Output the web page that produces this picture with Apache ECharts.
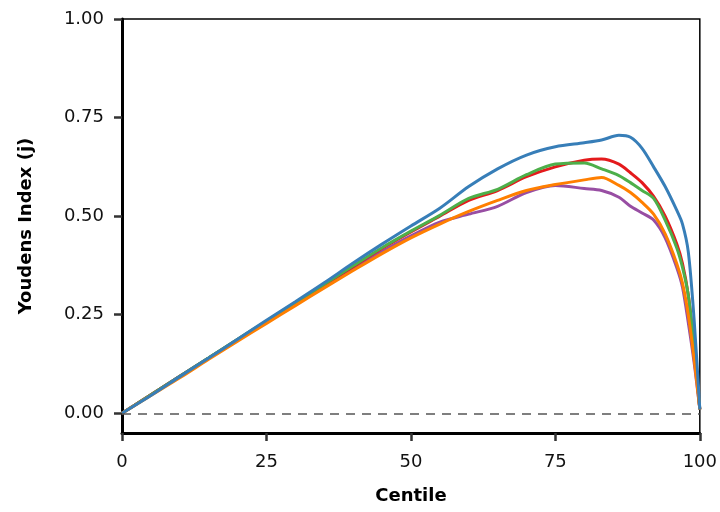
<!DOCTYPE html>
<html>
<head>
<meta charset="utf-8">
<script src="https://cdn.jsdelivr.net/npm/echarts@6/dist/echarts.min.js"></script>
<style>html,body{margin:0;padding:0;background:#fff}#c{width:720px;height:512px}</style>
</head>
<body>
<div id="c"></div>
<script>
var centiles = [0, 5, 10, 15, 20, 25, 30, 35, 40, 45, 50, 55, 60, 65, 70, 75, 80, 83, 86, 88, 90, 92, 94, 96, 97, 98, 99, 100];
var blueVals   = [0, 0.045, 0.093, 0.140, 0.188, 0.236, 0.283, 0.331, 0.381, 0.429, 0.475, 0.520, 0.575, 0.620, 0.655, 0.676, 0.686, 0.693, 0.705, 0.700, 0.672, 0.625, 0.575, 0.515, 0.480, 0.410, 0.240, 0.010];
var redVals    = [0, 0.047, 0.094, 0.140, 0.187, 0.233, 0.280, 0.326, 0.372, 0.418, 0.460, 0.500, 0.540, 0.565, 0.600, 0.625, 0.642, 0.645, 0.632, 0.610, 0.585, 0.550, 0.500, 0.430, 0.380, 0.300, 0.170, 0.010];
var greenVals  = [0, 0.047, 0.094, 0.141, 0.188, 0.234, 0.281, 0.327, 0.374, 0.420, 0.462, 0.502, 0.545, 0.568, 0.605, 0.632, 0.635, 0.620, 0.603, 0.585, 0.565, 0.545, 0.490, 0.420, 0.370, 0.300, 0.170, 0.010];
var orangeVals = [0, 0.045, 0.090, 0.137, 0.183, 0.228, 0.273, 0.318, 0.362, 0.405, 0.445, 0.480, 0.512, 0.540, 0.565, 0.580, 0.592, 0.598, 0.578, 0.560, 0.535, 0.505, 0.455, 0.380, 0.330, 0.250, 0.140, 0.010];
var purpleVals = [0, 0.047, 0.094, 0.140, 0.186, 0.231, 0.276, 0.321, 0.366, 0.410, 0.450, 0.485, 0.505, 0.525, 0.560, 0.578, 0.570, 0.565, 0.548, 0.525, 0.508, 0.490, 0.445, 0.370, 0.320, 0.230, 0.130, 0.010];
var yTicks = [0, 0.25, 0.5, 0.75, 1.0];
var xTicks = [0, 25, 50, 75, 100];

function pairs(v){ return centiles.map(function(c,i){ return [c, v[i]]; }); }

var seriesDefs = [
  {name: 'S5', vals: purpleVals, color: '#984ea3'},
  {name: 'S2', vals: redVals, color: '#e41a1c'},
  {name: 'S3', vals: greenVals, color: '#4daf4a'},
  {name: 'S4', vals: orangeVals, color: '#ff7f00'},
  {name: 'S1', vals: blueVals, color: '#377eb8'}
];

var series = seriesDefs.map(function(s){
  return {
    name: s.name, type: 'line', data: pairs(s.vals), smooth: 0.3,
    showSymbol: false, symbol: 'none',
    lineStyle: {color: s.color, width: 3}, itemStyle: {color: s.color},
    z: 3
  };
});
series.unshift({
  type: 'line', data: [], z: 1,
  markLine: {
    silent: true, symbol: 'none', label: {show: false},
    lineStyle: {color: '#555', type: [9, 7], width: 1.5},
    data: [{yAxis: 0}]
  }
});

var FONT = 'DejaVu Sans';
var chart = echarts.init(document.getElementById('c'), null, {renderer: 'canvas'});
chart.setOption({
  animation: false,
  backgroundColor: '#fff',
  grid: {left: 122, right: 19, top: 19, bottom: 79, show: true, borderColor: '#000', borderWidth: 1.5, backgroundColor: 'transparent'},
  xAxis: {
    type: 'value', min: 0, max: 100, interval: 25,
    name: 'Centile', nameLocation: 'middle', nameGap: 54,
    nameTextStyle: {fontFamily: FONT, fontSize: 18, fontWeight: 'bold', color: '#000'},
    axisLine: {show: true, onZero: false, lineStyle: {color: '#000', width: 3}},
    axisTick: {show: true, length: 8, lineStyle: {color: '#333', width: 2.5}},
    axisLabel: {margin: 20, fontFamily: FONT, fontSize: 18, color: '#111',
      formatter: function(v){ return xTicks.indexOf(v) >= 0 ? String(v) : ''; }},
    splitLine: {show: false}
  },
  yAxis: {
    type: 'value', min: -0.05, max: 1, interval: 0.25,
    name: 'Youdens Index (j)', nameLocation: 'middle', nameGap: 87,
    nameTextStyle: {fontFamily: FONT, fontSize: 18, fontWeight: 'bold', color: '#000'},
    axisLine: {show: true, onZero: false, lineStyle: {color: '#000', width: 3}},
    axisTick: {show: true, length: 8, lineStyle: {color: '#333', width: 2.5},
      customValues: yTicks},
    axisLabel: {margin: 18, fontFamily: FONT, fontSize: 18, color: '#111',
      customValues: yTicks,
      formatter: function(v){ return v.toFixed(2); }},
    splitLine: {show: false}
  },
  series: series
});
</script>
</body>
</html>
